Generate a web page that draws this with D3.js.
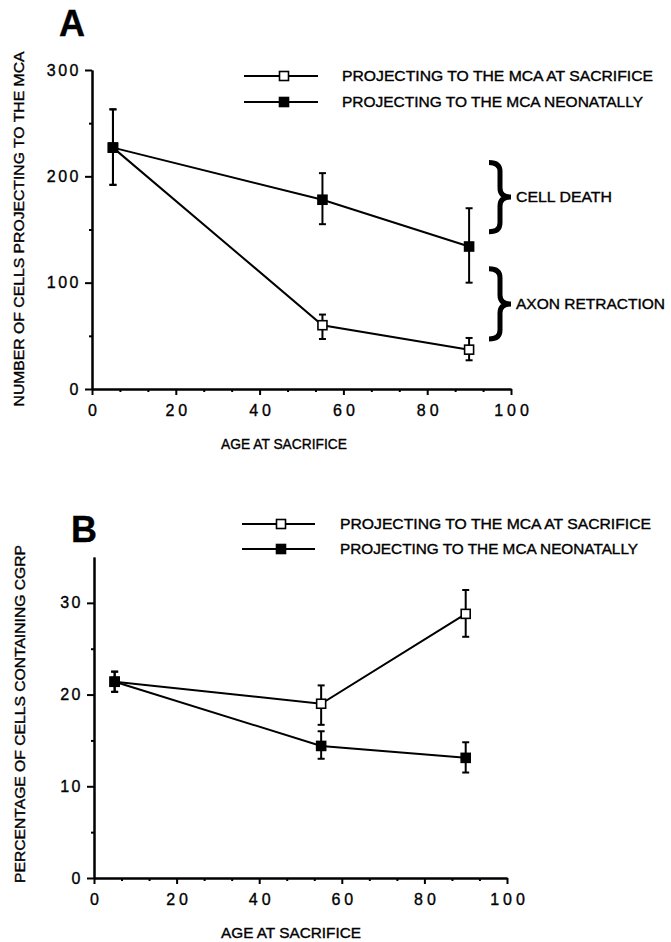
<!DOCTYPE html>
<html>
<head>
<meta charset="utf-8">
<script src="https://cdnjs.cloudflare.com/ajax/libs/d3/7.8.5/d3.min.js"></script>
<style>
body { margin: 0; background: #fff; }
svg { display: block; font-family: "Liberation Sans", Arial, sans-serif; }
svg text { stroke: #000; stroke-width: 0.35px; }
.axis path, .axis line { stroke: #000; stroke-width: 2; }
.axis text { fill: #000; }
</style>
</head>
<body>
<div id="data"></div>
<script>
// ages at sacrifice (days)
var ages = [5, 55, 90];

// panel A: number of cells projecting to the MCA
var cellsSacrifice   = [227, 60, 37],
    cellsSacrificeLo = [192, 47, 27],
    cellsSacrificeHi = [263, 70, 48];
var cellsNeonatal    = [227, 178, 134],
    cellsNeonatalLo  = [192, 155, 100],
    cellsNeonatalHi  = [263, 203, 170];
var braceLabels = ["CELL DEATH", "AXON RETRACTION"],
    braceLo = [148, 47],
    braceHi = [213, 113];

// panel B: percentage of cells containing CGRP
var cgrpSacrifice   = [21.4, 19.0, 28.8],
    cgrpSacrificeLo = [20.3, 16.7, 26.3],
    cgrpSacrificeHi = [22.5, 21.0, 31.4];
var cgrpNeonatal    = [21.4, 14.4, 13.1],
    cgrpNeonatalLo  = [20.3, 13.0, 11.5],
    cgrpNeonatalHi  = [22.5, 16.0, 14.8];

var xTicks = [0, 20, 40, 60, 80, 100],
    yTicksA = [0, 100, 200, 300],
    yTicksB = [0, 10, 20, 30];
var legendNames = ["PROJECTING TO THE MCA AT SACRIFICE", "PROJECTING TO THE MCA NEONATALLY"];

var svg = d3.select("#data").append("svg").attr("width", 671).attr("height", 942);

function series(means, lo, hi, filled) {
  return { filled: filled, values: ages.map(function(a, i) { return {age: a, v: means[i], lo: lo[i], hi: hi[i]}; }) };
}

function makePanel(config) {
  var x = d3.scaleLinear().domain([0, 100]).range(config.xRange),
      y = d3.scaleLinear().domain(config.yDomain).range(config.yRange),
      g = svg.append("g");

  var minorX = d3.range(0, 100, 20 / 3).filter(function(d, i) { return i % 3 != 0; });

  // x axis
  g.append("g").attr("class", "axis")
      .attr("transform", "translate(0," + config.yRange[0] + ")")
      .call(d3.axisBottom(x).tickValues(minorX).tickSize(3).tickSizeOuter(0).tickFormat(""));
  g.append("g").attr("class", "axis")
      .attr("transform", "translate(0," + config.yRange[0] + ")")
      .call(d3.axisBottom(x).tickValues(xTicks).tickSize(6).tickSizeOuter(0).tickPadding(10))
      .selectAll("text").attr("font-size", 16).attr("letter-spacing", 4).attr("dx", 2);

  // y axis
  g.append("g").attr("class", "axis")
      .attr("transform", "translate(" + x(0) + ",0)")
      .call(d3.axisLeft(y).tickValues(config.yMinor).tickSize(3).tickSizeOuter(0).tickFormat(""));
  g.append("g").attr("class", "axis")
      .attr("transform", "translate(" + x(0) + ",0)")
      .call(d3.axisLeft(y).tickValues(config.yTicks).tickSize(7).tickSizeOuter(0).tickPadding(4))
      .selectAll("text").attr("font-size", 16).attr("letter-spacing", 2.5);

  // titles
  g.append("text")
      .attr("x", config.xTitle[0]).attr("y", config.xTitle[1])
      .attr("text-anchor", "middle").attr("font-size", 14)
      .attr("textLength", config.xTitle[2]).attr("lengthAdjust", "spacingAndGlyphs")
      .text("AGE AT SACRIFICE");
  g.append("text")
      .attr("transform", "translate(" + config.yTitle[0] + "," + config.yTitle[1] + ") rotate(-90)")
      .attr("text-anchor", "middle").attr("font-size", 14)
      .attr("textLength", config.yTitle[2]).attr("lengthAdjust", "spacingAndGlyphs")
      .text(config.yLabel);
  g.append("text")
      .attr("x", config.letter[0]).attr("y", config.letter[1])
      .attr("font-size", 36).attr("font-weight", "bold")
      .text(config.letterText);

  var line = d3.line()
      .x(function(d) { return x(d.age); })
      .y(function(d) { return y(d.v); });

  var s = g.selectAll(".series")
    .data(config.series)
    .enter().append("g")
      .attr("class", "series");

  s.append("path")
      .attr("d", function(d) { return line(d.values); })
      .attr("fill", "none")
      .attr("stroke", "#000")
      .attr("stroke-width", 2);

  var pts = s.selectAll(".pt")
    .data(function(d) { return d.values.map(function(v) { v.filled = d.filled; return v; }); })
    .enter().append("g")
      .attr("class", "pt")
      .attr("transform", function(d) { return "translate(" + x(d.age) + ",0)"; });

  pts.append("line")
      .attr("y1", function(d) { return y(d.lo); })
      .attr("y2", function(d) { return y(d.hi); })
      .attr("stroke", "#000").attr("stroke-width", 2);
  pts.selectAll(".cap")
    .data(function(d) { return [d.lo, d.hi]; })
    .enter().append("line")
      .attr("x1", -3.5).attr("x2", 3.5)
      .attr("y1", function(d) { return y(d); })
      .attr("y2", function(d) { return y(d); })
      .attr("stroke", "#000").attr("stroke-width", 2);
  pts.append("rect")
      .attr("x", -4.5).attr("width", 9).attr("height", 9)
      .attr("y", function(d) { return y(d.v) - 4.5; })
      .attr("fill", function(d) { return d.filled ? "#000" : "#fff"; })
      .attr("stroke", "#000").attr("stroke-width", 1.6);

  // legend
  var legend = g.selectAll(".legend")
    .data(legendNames)
    .enter().append("g")
      .attr("class", "legend")
      .attr("transform", function(d, i) { return "translate(0," + config.legendY[i] + ")"; });
  legend.append("line")
      .attr("x1", config.legendX[0]).attr("x2", config.legendX[1])
      .attr("stroke", "#000").attr("stroke-width", 2);
  legend.append("rect")
      .attr("x", config.legendX[3] - 4.5).attr("y", -4.5)
      .attr("width", 9).attr("height", 9)
      .attr("fill", function(d, i) { return i ? "#000" : "#fff"; })
      .attr("stroke", "#000").attr("stroke-width", 1.6);
  legend.append("text")
      .attr("x", config.legendX[2]).attr("dy", "0.36em")
      .attr("font-size", 14)
      .attr("textLength", function(d, i) { return config.legendLen[i]; })
      .attr("lengthAdjust", "spacingAndGlyphs")
      .text(function(d) { return d; });

  return {x: x, y: y, g: g};
}

var panelA = makePanel({
  xRange: [92, 511], yDomain: [0, 300], yRange: [389, 70],
  yTicks: yTicksA, yMinor: [50, 150, 250],
  yLabel: "NUMBER OF CELLS PROJECTING TO THE MCA",
  xTitle: [284, 449, 126], yTitle: [24, 229, 355],
  letter: [59, 36], letterText: "A",
  legendX: [244, 318, 342, 284], legendY: [76, 102], legendLen: [311, 301],
  series: [series(cellsSacrifice, cellsSacrificeLo, cellsSacrificeHi, false),
           series(cellsNeonatal, cellsNeonatalLo, cellsNeonatalHi, true)]
});

// braces for panel A
var braces = panelA.g.selectAll(".brace")
  .data(braceLabels)
  .enter().append("g")
    .attr("class", "brace");

function bracePath(bx, y0, y1, w) {
  var m = (y0 + y1) / 2, h = w / 2, q = 9;
  return "M" + bx + "," + y0 +
    " Q" + (bx + h) + "," + y0 + " " + (bx + h) + "," + (y0 + q) +
    " L" + (bx + h) + "," + (m - q) +
    " Q" + (bx + h) + "," + m + " " + (bx + w) + "," + m +
    " Q" + (bx + h) + "," + m + " " + (bx + h) + "," + (m + q) +
    " L" + (bx + h) + "," + (y1 - q) +
    " Q" + (bx + h) + "," + y1 + " " + bx + "," + y1;
}

braces.append("path")
    .attr("d", function(d, i) { return bracePath(489, panelA.y(braceHi[i]), panelA.y(braceLo[i]), 22); })
    .attr("fill", "none").attr("stroke", "#000").attr("stroke-width", 5);
braces.append("text")
    .attr("x", 516)
    .attr("y", function(d, i) { return panelA.y((braceLo[i] + braceHi[i]) / 2); })
    .attr("dy", "0.36em").attr("font-size", 14)
    .attr("textLength", function(d, i) { return i ? 149 : 96; })
    .attr("lengthAdjust", "spacingAndGlyphs")
    .text(function(d) { return d; });

makePanel({
  xRange: [94, 507], yDomain: [0, 35], yRange: [878, 557],
  yTicks: yTicksB, yMinor: [5, 15, 25],
  yLabel: "PERCENTAGE OF CELLS CONTAINING CGRP",
  xTitle: [291, 938, 140], yTitle: [25, 714, 338],
  letter: [71, 542], letterText: "B",
  legendX: [242, 315, 340, 281], legendY: [524, 549], legendLen: [311, 298],
  series: [series(cgrpSacrifice, cgrpSacrificeLo, cgrpSacrificeHi, false),
           series(cgrpNeonatal, cgrpNeonatalLo, cgrpNeonatalHi, true)]
});
</script>
</body>
</html>
